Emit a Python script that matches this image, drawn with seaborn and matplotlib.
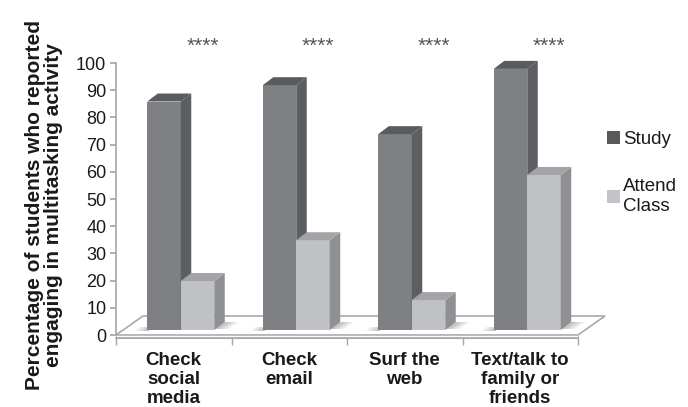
import numpy as np
import pandas as pd
import matplotlib
matplotlib.use("Agg")
import matplotlib.pyplot as plt
import seaborn as sns
from matplotlib.patches import Polygon, Patch
from matplotlib.transforms import ScaledTranslation

activities = ["Check\nsocial\nmedia", "Check\nemail", "Surf the\nweb", "Text/talk to\nfamily or\nfriends"]
groups = ["Study", "Attend Class"]
study = [84, 90, 72, 96]
attend = [18, 33, 11, 57]
stars = ["****", "****", "****", "****"]
yticks = [0, 10, 20, 30, 40, 50, 60, 70, 80, 90, 100]

df = pd.DataFrame({
    "activity": activities * 2,
    "group": [groups[0]] * 4 + [groups[1]] * 4,
    "pct": study + attend,
})

sns.set_theme(style="white")
plt.rcParams["font.family"] = ["Liberation Sans", "DejaVu Sans"]

W, H = 688, 407
fig = plt.figure(figsize=(W / 100, H / 100), dpi=100)
ax = fig.add_axes([116 / W, 1 - 335 / H, 462 / W, 272 / H])

front = {"Study": "#7f8084", "Attend Class": "#c0c1c4"}
side = {"Study": "#5d5e61", "Attend Class": "#8f9093"}
top = {"Study": "#5a5b5e", "Attend Class": "#a3a4a7"}
legend_col = {"Study": "#58595b", "Attend Class": "#c3c4c7"}

sns.barplot(df, x="activity", y="pct", hue="group", hue_order=groups,
            palette=front, width=0.58, saturation=1, linewidth=0,
            legend=False, ax=ax)
ax.set_xlim(-0.5, 3.5)
ax.set_ylim(0, 100)

# 3d look: front faces pushed into the floor, sides and tops added
shift = (7, 5)      # px, front face offset into the floor
depth = (10.5, 8)   # px, bar depth
to_px = ax.transData.transform
to_data = ax.transData.inverted().transform
off = ScaledTranslation(shift[0] / 100, shift[1] / 100, fig.dpi_scale_trans)

# floor
fl, fr = to_px((-0.5, 0)), to_px((3.5, 0))
floor = np.array([fl, fr, fr + (27, 19), fl + (27, 19)])
ax.add_patch(Polygon(to_data(floor), closed=True, fc="white", ec="#a9a9a9",
                     lw=1.2, zorder=1, clip_on=False))
slab = np.array([fl, fr, fr - (0, 3), fl - (0, 3)])
ax.add_patch(Polygon(to_data(slab), closed=True, fc="white", ec="#bdbdbd",
                     lw=0.8, zorder=1, clip_on=False))

bars = list(ax.patches[:8])
for i, bar in enumerate(bars):
    g = groups[i // 4]
    z = 3 + i // 4
    x0, w, h = bar.get_x(), bar.get_width(), bar.get_height()
    bar.set_transform(ax.transData + off)
    bar.set_zorder(z)
    bar.set_clip_on(False)
    bl = to_px((x0, 0)) + shift
    br = to_px((x0 + w, 0)) + shift
    tl = to_px((x0, h)) + shift
    tr = to_px((x0 + w, h)) + shift
    d = np.array(depth)
    # soft shadow on the floor
    if g == "Attend Class":
        for k, a in zip(range(4), [0.10, 0.10, 0.12, 0.15]):
            sh = np.array([br + (-2, 1), br + (14 - 3 * k, 1), br + d + (14 - 3 * k, 0), br + d])
            ax.add_patch(Polygon(to_data(sh), closed=True, fc="#707070", ec="none",
                                 alpha=a, zorder=2, clip_on=False))
    else:
        for k, a in zip(range(4), [0.10, 0.10, 0.12, 0.15]):
            sh = np.array([bl + (-12 + 3 * k, -1), bl + (2, -1), bl + (2, 3), bl + (-8 + 3 * k, 3)])
            ax.add_patch(Polygon(to_data(sh), closed=True, fc="#707070", ec="none",
                                 alpha=a, zorder=2, clip_on=False))
    s = np.array([br, tr, tr + d, br + d])
    ax.add_patch(Polygon(to_data(s), closed=True, fc=side[g], ec="none",
                         zorder=z, clip_on=False))
    t = np.array([tl, tr, tr + d, tl + d])
    ax.add_patch(Polygon(to_data(t), closed=True, fc=top[g], ec="none",
                         zorder=z, clip_on=False))

# significance stars
for i, s in enumerate(stars):
    ax.text(i + 0.25, 106, s, ha="center", va="center", fontsize=15,
            color="#555555", clip_on=False)

sns.despine(ax=ax)
for sp in ["left", "bottom"]:
    ax.spines[sp].set_color("#a6a6a6")
    ax.spines[sp].set_linewidth(1.2)
ax.spines["bottom"].set_position(("outward", 2))
ax.set_yticks(yticks)
ax.tick_params(axis="y", left=True, length=4, color="#a6a6a6", labelsize=13,
               labelcolor="#1a1a1a", pad=3)
ax.set_xticks(range(4), activities, fontsize=13.5, fontweight="bold",
              linespacing=1.18, color="#1a1a1a")
ax.tick_params(axis="x", bottom=False, pad=4)
ax.set_xticks(np.arange(-0.5, 4, 1), minor=True)
ax.tick_params(axis="x", which="minor", bottom=True, length=5, color="#a6a6a6")
ax.set_xlabel("")
ax.set_ylabel("")

fig.text(44 / W, 1 - 205 / H,
         "Percentage of students who reported\nengaging in multitasking activity",
         rotation=90, ha="center", va="center", multialignment="center",
         fontsize=15, fontweight="bold", linespacing=0.95, color="#1a1a1a")

handles = [Patch(fc=legend_col[g], ec="none") for g in groups]
fig.legend(handles, ["Study", "Attend\nClass"], loc="upper left",
           bbox_to_anchor=(590 / W, 1 - 114 / H), frameon=False, fontsize=13.5,
           handlelength=0.7, handleheight=0.7, handletextpad=0.15,
           labelspacing=1.6, labelcolor="#1a1a1a")

fig.savefig("out.png", dpi=100)
